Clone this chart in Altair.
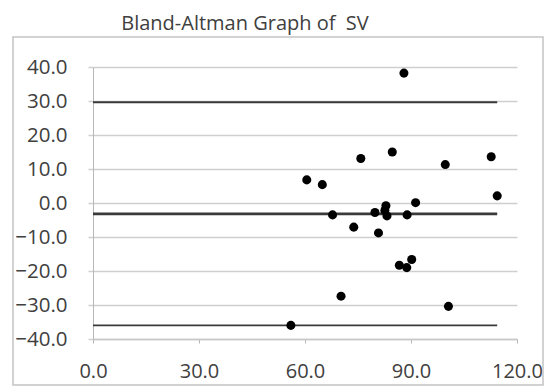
import altair as alt
import pandas as pd

# Data
mean_x = [88.0, 75.8, 84.7, 99.7, 112.7, 60.5, 64.9, 114.4, 91.3, 82.9, 82.6, 83.2,
          67.8, 79.8, 88.9, 73.8, 80.8, 86.7, 90.2, 88.8, 70.2, 100.6, 56.0]
diff_y = [38.2, 13.1, 15.0, 11.3, 13.6, 6.8, 5.4, 2.1, 0.1, -0.8, -2.2, -3.8,
          -3.5, -2.8, -3.5, -7.1, -8.8, -18.3, -16.6, -19.0, -27.4, -30.4, -36.0]

limit_names = ["upper", "mean", "lower"]
limit_values = [29.6, -3.2, -36.0]
limit_widths = [2.0, 2.6, 1.6]
limit_start = [0.0, 0.0, 0.0]
limit_end = [114.4, 114.4, 114.4]

x_ticks = [0, 30, 60, 90, 120]
y_ticks = [-40, -30, -20, -10, 0, 10, 20, 30, 40]

pts = pd.DataFrame({"x": mean_x, "y": diff_y})
lims = pd.DataFrame({"name": limit_names, "y": limit_values, "w": limit_widths,
                     "x0": limit_start, "x1": limit_end})

FONT = "Open Sans"
TXT = "#404040"

xscale = alt.Scale(domain=[0, 120], nice=False, zero=False)
yscale = alt.Scale(domain=[-40, 40], nice=False, zero=False)

xaxis = alt.Axis(values=x_ticks, format=".1f", title=None, grid=False,
                 labelFlush=False, labelOverlap=False, tickSize=4,
                 tickColor="#b8b8b8", domainColor="#c8c8c8", domainWidth=1.5,
                 labelPadding=18, labelFontSize=20, labelFont=FONT, labelColor=TXT)
yaxis = alt.Axis(values=y_ticks, format=".1f", title=None, grid=True,
                 gridColor="#cfcfcf", gridWidth=1.5, tickSize=5, tickColor="#cfcfcf",
                 tickWidth=1.5, domainColor="#b8b8b8", labelPadding=21,
                 labelFontSize=20.5, labelFont=FONT, labelColor=TXT, labelOverlap=False)

frame = alt.Chart(pd.DataFrame({"k": [0]})).mark_rect(
    fill=None, stroke="#c4c4c4", strokeWidth=1.5, clip=False
).encode(
    x=alt.value(-80), x2=alt.value(450), y=alt.value(-30), y2=alt.value(318)
)

rules = alt.Chart(lims).mark_rule(color="#3a3a3a").encode(
    x=alt.X("x0:Q", scale=xscale, axis=xaxis),
    x2="x1:Q",
    y=alt.Y("y:Q", scale=yscale, axis=yaxis),
    strokeWidth=alt.StrokeWidth("w:Q", scale=None, legend=None),
)

points = alt.Chart(pts).mark_circle(size=82, color="#000000", opacity=1).encode(
    x=alt.X("x:Q", scale=xscale, axis=xaxis),
    y=alt.Y("y:Q", scale=yscale, axis=yaxis),
)

chart = alt.layer(frame, rules, points).properties(
    width=424, height=272,
    title=alt.TitleParams("Bland-Altman Graph of \u00a0SV", font=FONT, fontSize=20,
                          fontWeight="normal", color=TXT, anchor="middle",
                          dx=-60, dy=12, offset=14),
    autosize=alt.AutoSizeParams(type="none"),
    padding={"left": 85, "top": 59, "right": 27, "bottom": 49},
).configure_view(stroke=None)

chart.save("out.html", embed_options={"renderer": "svg", "actions": False})
